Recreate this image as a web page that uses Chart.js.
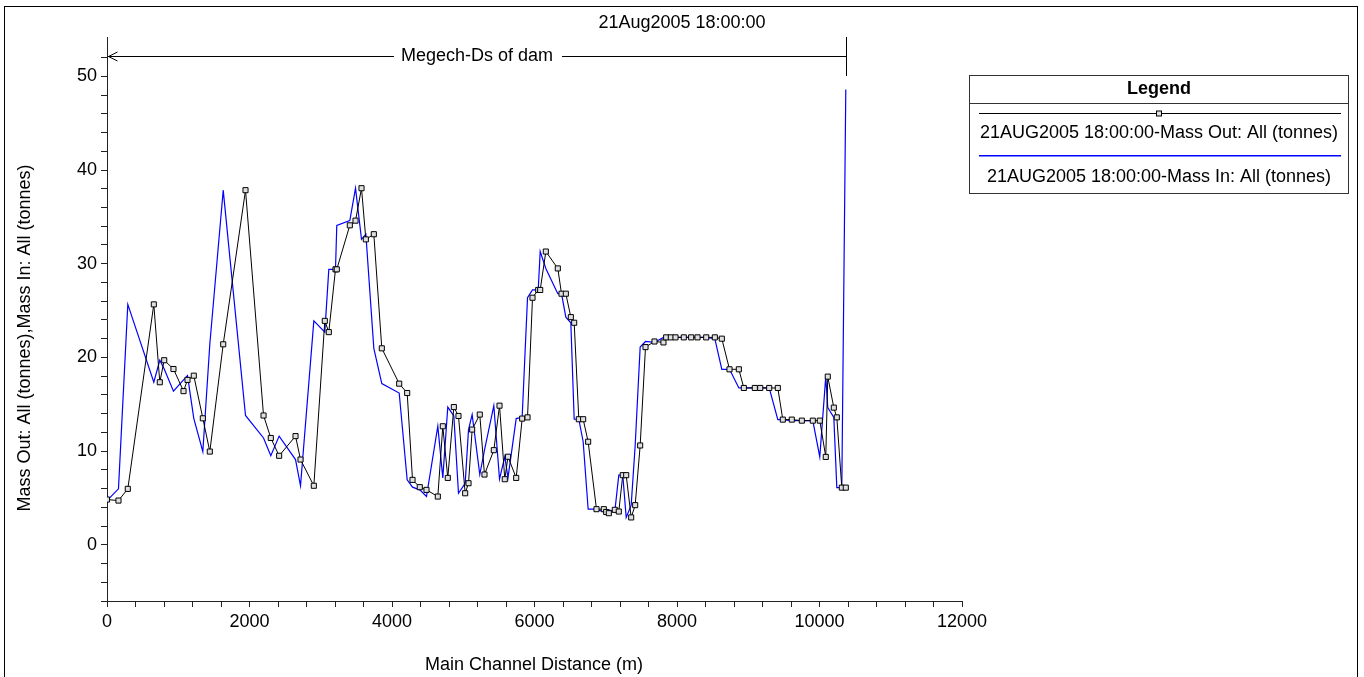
<!DOCTYPE html>
<html>
<head>
<meta charset="utf-8">
<script src="https://cdn.jsdelivr.net/npm/chart.js@4/dist/chart.umd.min.js"></script>
<style>
  body { margin: 0; background: #fff; }
  #wrap { width: 1364px; height: 677px; }
</style>
</head>
<body>
<div id="wrap"><canvas id="massChart" width="1364" height="677"></canvas></div>
<script>
// main channel distance (m) of each cross section
const distances = [0, 161, 292, 657, 741, 803, 933, 1074, 1130, 1218,
  1345, 1443, 1631, 1944, 2197, 2299, 2416, 2646, 2716, 2903,
  3057, 3113, 3207, 3225, 3408, 3488, 3572, 3633, 3745, 3857,
  4101, 4213, 4288, 4390, 4484, 4643, 4713, 4783, 4868, 4933,
  5027, 5074, 5125, 5232, 5298, 5429, 5509, 5583, 5628, 5743,
  5827, 5902, 5972, 6052, 6080, 6159, 6327, 6379, 6440, 6510,
  6557, 6622, 6683, 6753, 6870, 6973, 7006, 7043, 7127, 7183,
  7239, 7287, 7357, 7413, 7483, 7558, 7684, 7810, 7848, 7913,
  7979, 8095, 8199, 8288, 8410, 8531, 8629, 8737, 8868, 8938,
  9092, 9168, 9294, 9415, 9485, 9611, 9752, 9906, 10004, 10088,
  10116, 10201, 10243, 10313, 10369];

// Mass Out: All (tonnes)
const massOut = [4.83, 4.72, 5.97, 25.66, 17.35, 19.7, 18.76, 16.4, 17.6, 18.05,
  13.5, 9.95, 21.4, 37.85, 13.8, 11.4, 9.5, 11.6, 9.1, 6.3,
  23.9, 22.7, 29.4, 29.4, 34.1, 34.6, 38.06, 32.6, 33.15, 20.97,
  17.2, 16.2, 6.93, 6.15, 5.86, 5.15, 12.65, 7.14, 14.7, 13.75,
  5.5, 6.57, 12.3, 13.9, 7.5, 10.1, 14.85, 7.0, 9.4, 7.14,
  13.47, 13.6, 26.37, 27.2, 27.2, 31.3, 29.5, 26.8, 26.8, 24.3,
  23.7, 13.4, 13.4, 11.0, 3.8, 3.8, 3.5, 3.37, 3.73, 3.55,
  7.43, 7.43, 2.92, 4.23, 10.6, 21.1, 21.7, 21.6, 22.14, 22.14,
  22.14, 22.14, 22.14, 22.14, 22.14, 22.14, 22.0, 18.73, 18.73, 16.74,
  16.74, 16.74, 16.74, 16.74, 13.36, 13.36, 13.25, 13.25, 13.25, 9.38,
  17.95, 14.64, 13.6, 6.1, 6.1];

// Mass In: All (tonnes)
const massIn = [4.72, 5.97, 25.66, 17.35, 19.7, 18.76, 16.4, 17.6, 18.05, 13.5,
  9.95, 21.4, 37.85, 13.8, 11.4, 9.5, 11.6, 9.1, 6.3, 23.9,
  22.7, 29.4, 29.4, 34.1, 34.6, 38.06, 32.6, 33.15, 20.97, 17.2,
  16.2, 6.93, 6.15, 5.86, 5.15, 12.65, 7.14, 14.7, 13.75, 5.5,
  6.57, 12.3, 13.9, 7.5, 10.1, 14.85, 7.0, 9.4, 7.14, 13.47,
  13.6, 26.37, 27.2, 27.2, 31.3, 29.5, 26.8, 26.8, 24.3, 23.7,
  13.4, 13.4, 11.0, 3.8, 3.8, 3.5, 3.37, 3.73, 3.55, 7.43,
  7.43, 2.92, 4.23, 10.6, 21.1, 21.7, 21.6, 22.14, 22.14, 22.14,
  22.14, 22.14, 22.14, 22.14, 22.14, 22.0, 18.73, 18.73, 16.74, 16.74,
  16.74, 16.74, 16.74, 13.36, 13.36, 13.25, 13.25, 13.25, 9.38, 17.95,
  14.64, 13.6, 6.1, 6.1, 48.6];

const seriesNames = ['21AUG2005 18:00:00-Mass Out: All (tonnes)', '21AUG2005 18:00:00-Mass In: All (tonnes)'];
const chartTitle = '21Aug2005 18:00:00';
const reachLabel = 'Megech-Ds of dam';
const xTitle = 'Main Channel Distance (m)';
const yTitle = 'Mass Out: All (tonnes),Mass In: All (tonnes)';

const FONT = '"Liberation Sans", Arial, sans-serif';
const AXIS = '#222';
const BLUE = '#0000ff';

const toPoints = vals => distances.map((d, i) => ({ x: d, y: vals[i] }));

// frame, titles, reach arrow and boxed legend
const decorations = {
  id: 'decorations',
  afterDraw(chart) {
    const c = chart.ctx;
    const xs = chart.scales.x;
    c.save();
    c.strokeStyle = '#000';
    c.lineWidth = 1;
    c.strokeRect(4.5, 6.5, 1353, 690);

    c.fillStyle = '#000';
    c.font = '18px ' + FONT;
    c.textAlign = 'center';
    c.textBaseline = 'middle';
    c.fillText(chartTitle, 682, 23);
    c.fillText(xTitle, 534, 665);

    c.save();
    c.translate(25, 338);
    c.rotate(-Math.PI / 2);
    c.fillText(yTitle, 0, 0);
    c.restore();

    // reach arrow
    const x0 = Math.round(xs.getPixelForValue(distances[0])) + 0.5;
    const x1 = Math.round(xs.getPixelForValue(distances[distances.length - 1])) + 0.5;
    const ay = 56.5;
    const mid = (x0 + x1) / 2;
    const tw = c.measureText(reachLabel).width;
    c.fillText(reachLabel, mid, ay);
    c.beginPath();
    c.moveTo(x0, ay); c.lineTo(mid - tw / 2 - 7, ay);
    c.moveTo(mid + tw / 2 + 9, ay); c.lineTo(x1, ay);
    c.moveTo(x1, 37); c.lineTo(x1, 76);
    c.moveTo(x0 + 10, ay - 4.5); c.lineTo(x0 + 1, ay); c.lineTo(x0 + 10, ay + 4.5);
    c.stroke();

    // legend box
    const lx = 969.5, ly = 75.5, lw = 379, lh = 118;
    const cx = lx + lw / 2;
    c.strokeStyle = '#333';
    c.strokeRect(lx, ly, lw, lh);
    c.beginPath();
    c.moveTo(lx, 103.5); c.lineTo(lx + lw, 103.5);
    c.stroke();
    c.font = 'bold 18px ' + FONT;
    c.fillText('Legend', cx, 89);
    c.font = '18px ' + FONT;

    c.fillStyle = '#000';
    c.fillRect(979, 113, 362, 1);
    c.fillStyle = '#e0e0e0';
    c.fillRect(cx - 2.5, 111, 5, 5);
    c.strokeStyle = '#000';
    c.strokeRect(cx - 2.5, 111, 5, 5);
    c.fillStyle = '#000';
    c.fillText(seriesNames[0], cx, 133);

    c.fillStyle = BLUE;
    c.fillRect(979, 155, 362, 1.5);
    c.fillStyle = '#000';
    c.fillText(seriesNames[1], cx, 177);
    c.restore();
  }
};

new Chart(document.getElementById('massChart'), {
  type: 'line',
  data: {
    datasets: [
      {
        label: seriesNames[0],
        data: toPoints(massOut),
        borderColor: '#000',
        borderWidth: 1,
        pointStyle: 'rect',
        pointRadius: 3.6,
        pointBorderWidth: 1,
        pointBorderColor: '#000',
        pointBackgroundColor: '#e0e0e0',
        tension: 0
      },
      {
        label: seriesNames[1],
        data: toPoints(massIn),
        borderColor: BLUE,
        borderWidth: 1.2,
        pointRadius: 0,
        tension: 0
      }
    ]
  },
  options: {
    responsive: false,
    animation: false,
    layout: { padding: { left: 0, top: 37, right: 402, bottom: 0 } },
    plugins: { legend: { display: false }, tooltip: { enabled: false } },
    scales: {
      x: {
        type: 'linear',
        min: 0,
        max: 12000,
        afterFit: s => { s.height = 76; },
        border: { color: AXIS, width: 1 },
        grid: { drawOnChartArea: false, drawTicks: true, tickLength: 6, color: AXIS },
        ticks: {
          stepSize: 400,
          autoSkip: false,
          maxRotation: 0,
          padding: 4,
          color: '#000',
          font: { family: FONT, size: 18 },
          callback: v => (v % 2000 === 0 ? String(v) : '')
        }
      },
      y: {
        min: -6,
        max: 54.2,
        afterFit: s => { s.width = 107; },
        afterBuildTicks: s => { s.ticks = s.ticks.filter(t => Number.isInteger(t.value) && t.value <= 52); },
        border: { color: AXIS, width: 1 },
        grid: { drawOnChartArea: false, drawTicks: true, tickLength: 6, color: AXIS },
        ticks: {
          stepSize: 2,
          autoSkip: false,
          padding: 4,
          color: '#000',
          font: { family: FONT, size: 18 },
          callback: v => (v % 10 === 0 ? String(v) : '')
        }
      }
    }
  },
  plugins: [decorations]
});
</script>
</body>
</html>
